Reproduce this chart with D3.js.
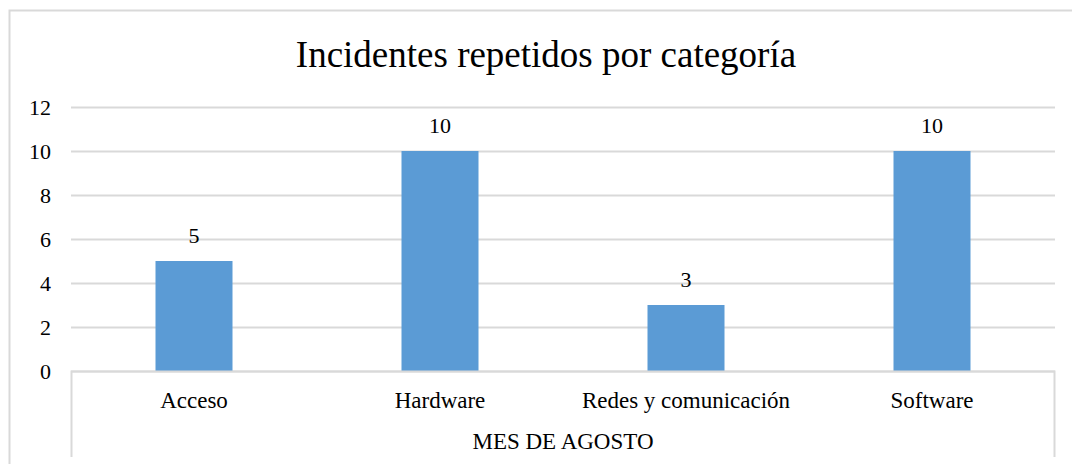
<!DOCTYPE html>
<html>
<head>
<meta charset="utf-8">
<script src="https://cdn.jsdelivr.net/npm/d3@7"></script>
<style>
  body { margin: 0; background: #fff; }
  .grid line { stroke: #d9d9d9; stroke-width: 2; }
  .grid .domain { display: none; }
</style>
</head>
<body>
<svg id="chart"></svg>
<script>
// data
const categories = ['Acceso', 'Hardware', 'Redes y comunicación', 'Software'];
const values = [5, 10, 3, 10];
const yTicks = [0, 2, 4, 6, 8, 10, 12];
const groupLabel = 'MES DE AGOSTO';
const title = 'Incidentes repetidos por categoría';

const serif = '"Liberation Serif", "Times New Roman", "DejaVu Serif", serif';

const width = 1072, height = 464;
const margin = { top: 107, right: 17, bottom: 93, left: 71 };
const innerW = width - margin.left - margin.right;
const innerH = height - margin.top - margin.bottom;

const svg = d3.select('#chart')
    .attr('width', width)
    .attr('height', height);

// outer chart border (cut by the image edges on right and bottom)
svg.append('rect')
    .attr('x', 9.5)
    .attr('y', 10.5)
    .attr('width', 1100)
    .attr('height', 500)
    .attr('fill', 'none')
    .attr('stroke', '#d9d9d9')
    .attr('stroke-width', 2);

svg.append('text')
    .attr('x', 546)
    .attr('y', 67)
    .attr('text-anchor', 'middle')
    .style('font-family', serif)
    .style('font-size', '37px')
    .text(title);

const chart = svg.append('g')
    .attr('transform', `translate(${margin.left},${margin.top})`);

const xScale = d3.scaleBand()
    .domain(categories)
    .range([0, innerW])
    .paddingInner(0.687)
    .paddingOuter(0.3435);

const yScale = d3.scaleLinear()
    .domain([0, 12])
    .range([innerH, 0]);

// gridlines
chart.append('g')
    .attr('class', 'grid')
    .call(d3.axisLeft(yScale).tickValues(yTicks).tickSize(-innerW).tickFormat(''));

// y tick labels
chart.selectAll('.y-label')
    .data(yTicks)
    .join('text')
    .attr('class', 'y-label')
    .attr('x', -20)
    .attr('y', d => yScale(d))
    .attr('dy', '0.35em')
    .attr('text-anchor', 'end')
    .style('font-family', serif)
    .style('font-size', '22px')
    .text(d => d);

// bars
chart.selectAll('.bar')
    .data(values)
    .join('rect')
    .attr('class', 'bar')
    .attr('x', (d, i) => xScale(categories[i]))
    .attr('y', d => yScale(d))
    .attr('width', xScale.bandwidth())
    .attr('height', d => innerH - yScale(d))
    .attr('fill', '#5b9bd5');

// value labels
chart.selectAll('.val')
    .data(values)
    .join('text')
    .attr('class', 'val')
    .attr('x', (d, i) => xScale(categories[i]) + xScale.bandwidth() / 2)
    .attr('y', d => yScale(d) - 18)
    .attr('text-anchor', 'middle')
    .style('font-family', serif)
    .style('font-size', '22px')
    .text(d => d);

// category axis with group box
const axisG = chart.append('g').attr('transform', `translate(0,${innerH})`);
axisG.append('path')
    .attr('d', `M0.5,86V0.5H${innerW - 0.5}V86`)
    .attr('fill', 'none')
    .attr('stroke', '#d9d9d9')
    .attr('stroke-width', 2);

axisG.selectAll('.cat')
    .data(categories)
    .join('text')
    .attr('class', 'cat')
    .attr('x', d => xScale(d) + xScale.bandwidth() / 2)
    .attr('y', 37)
    .attr('text-anchor', 'middle')
    .style('font-family', serif)
    .style('font-size', '23px')
    .text(d => d);

axisG.append('text')
    .attr('x', innerW / 2)
    .attr('y', 78)
    .attr('text-anchor', 'middle')
    .style('font-family', serif)
    .style('font-size', '23px')
    .text(groupLabel);
</script>
</body>
</html>
